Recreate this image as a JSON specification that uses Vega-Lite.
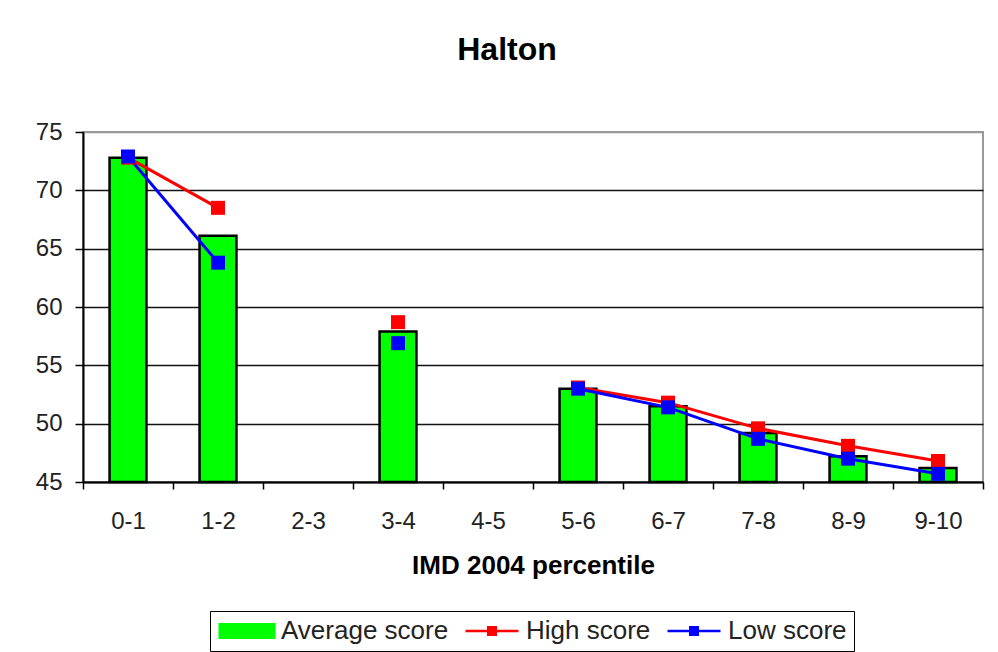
{
  "$schema": "https://vega.github.io/schema/vega-lite/v6.json",
  "autosize": {"type": "none"},
  "width": 900,
  "height": 350,
  "padding": {"left": 83, "top": 132, "right": 15, "bottom": 170},
  "background": "white",
  "config": {
    "font": "Liberation Sans",
    "view": {"stroke": "#999999", "strokeWidth": 2}
  },
  "title": {
    "text": "Halton",
    "font": "Liberation Sans",
    "fontSize": 32,
    "fontWeight": "bold",
    "color": "black",
    "frame": "group",
    "anchor": "middle",
    "baseline": "alphabetic",
    "offset": 28,
    "dx": -26
  },
  "data": {
    "values": [
      {"band": "0-1", "Average score": 72.8, "High score": 72.8, "Low score": 72.9},
      {"band": "1-2", "Average score": 66.1, "High score": 68.5, "Low score": 63.8},
      {"band": "2-3", "Average score": null, "High score": null, "Low score": null},
      {"band": "3-4", "Average score": 57.9, "High score": 58.7, "Low score": 56.9},
      {"band": "4-5", "Average score": null, "High score": null, "Low score": null},
      {"band": "5-6", "Average score": 53.0, "High score": 53.1, "Low score": 53.0},
      {"band": "6-7", "Average score": 51.5, "High score": 51.8, "Low score": 51.4},
      {"band": "7-8", "Average score": 49.2, "High score": 49.6, "Low score": 48.7},
      {"band": "8-9", "Average score": 47.2, "High score": 48.1, "Low score": 47.0},
      {"band": "9-10", "Average score": 46.2, "High score": 46.8, "Low score": 45.7}
    ]
  },
  "transform": [
    {"fold": ["Average score", "High score", "Low score"], "as": ["series", "score"]}
  ],
  "encoding": {
    "x": {
      "field": "band",
      "type": "ordinal",
      "sort": null,
      "scale": {"domain": ["0-1", "1-2", "2-3", "3-4", "4-5", "5-6", "6-7", "7-8", "8-9", "9-10"], "paddingInner": 0, "paddingOuter": 0},
      "axis": {
        "title": "IMD 2004 percentile",
        "titleFont": "Liberation Sans",
        "titleFontSize": 26,
        "titleFontWeight": "bold",
        "titleColor": "black",
        "titleBaseline": "alphabetic",
        "titleX": 450,
        "titleY": 91,
        "titleAlign": "center",
        "labelAngle": 0,
        "labelFontSize": 24,
        "labelColor": "#222222",
        "labelBaseline": "alphabetic",
        "labelPadding": 39,
        "labelOverlap": false,
        "tickBand": "extent",
        "tickSize": 7,
        "tickColor": "black",
        "tickWidth": 1.5,
        "domainColor": "black",
        "domainWidth": 2,
        "grid": false
      }
    },
    "y": {
      "field": "score",
      "type": "quantitative",
      "scale": {"domain": [45, 75], "zero": false, "nice": false},
      "axis": {
        "title": null,
        "values": [45, 50, 55, 60, 65, 70, 75],
        "labelFontSize": 24,
        "labelColor": "#222222",
        "labelPadding": 13,
        "tickSize": 8,
        "tickColor": "black",
        "tickWidth": 1.5,
        "domainColor": "black",
        "domainWidth": 2,
        "grid": true,
        "gridColor": {"condition": {"test": "datum.value === 75", "value": "#999999"}, "value": "#111111"},
        "gridWidth": 1.5
      }
    },
    "color": {
      "field": "series",
      "type": "nominal",
      "scale": {"domain": ["Average score", "High score", "Low score"], "range": ["#00ff00", "#ff0000", "#0000ff"]},
      "legend": {
        "title": null,
        "orient": "none",
        "direction": "horizontal",
        "legendX": 127,
        "legendY": 479,
        "labelFont": "Liberation Sans",
        "labelFontSize": 26,
        "labelLimit": 400,
        "labelColor": "#222222",
        "labelOffset": 21,
        "symbolSize": 400,
        "symbolOffset": 17,
        "symbolStrokeColor": "black",
        "symbolStrokeWidth": 3,
        "columnPadding": 13,
        "padding": 7,
        "strokeColor": "black",
        "fillColor": "white",
        "encode": {
          "symbols": {
            "update": {
              "shape": {"signal": "datum.value === 'Average score' ? 'M-2.7,-0.65H2.7V0.65H-2.7Z' : 'M-2.65,-0.13H2.65V0.13H-2.65Z M-0.5,-0.5H0.5V0.5H-0.5Z'"},
              "fill": {"signal": "scale('color', datum.value)"},
              "strokeWidth": {"signal": "datum.value === 'Average score' ? 3 : 0"},
              "size": {"value": 400},
              "opacity": {"value": 1},
              "fillOpacity": {"value": 1},
              "strokeOpacity": {"value": 1}
            }
          }
        }
      }
    }
  },
  "layer": [
    {
      "transform": [{"filter": "datum.series === 'Average score'"}],
      "mark": {"type": "bar", "width": {"band": 0.41}, "stroke": "black", "strokeWidth": 2.5, "opacity": 1},
      "encoding": {"y2": {"datum": 45}}
    },
    {
      "transform": [{"filter": "datum.series !== 'Average score'"}],
      "mark": {"type": "line", "strokeWidth": 3, "invalid": "break-paths-filter-domains"}
    },
    {
      "transform": [{"filter": "datum.series !== 'Average score' && datum.score != null"}],
      "mark": {"type": "point", "shape": "square", "filled": true, "size": 196, "opacity": 1}
    }
  ]
}
